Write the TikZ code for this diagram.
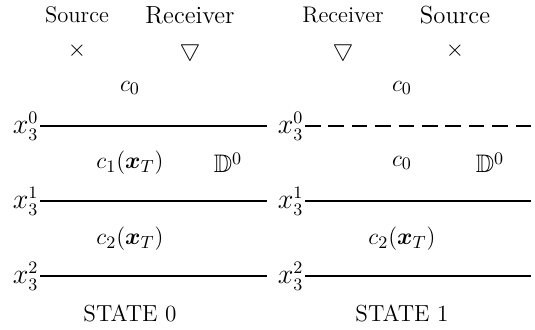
\documentclass[tikz,border=0pt]{standalone}
\usepackage{amsmath,amssymb,bm}
\usetikzlibrary{positioning}
\tikzset{
  smalltxt/.style={font=\fontsize{11.6}{13}\selectfont, inner sep=0pt},
  bigtxt/.style={font=\fontsize{12.7}{14}\selectfont, inner sep=0pt},
  sym/.style={font=\large, inner sep=0pt},
  lyr/.style={font=\fontsize{13.5}{15}\selectfont, inner sep=0.6pt, anchor=east},
  bnd/.style={line width=0.9pt},
  bnddash/.style={bnd, dash pattern=on 8pt off 4pt},
  lbl/.style={font=\fontsize{13}{15}\selectfont, inner sep=0pt},
  statetxt/.style={font=\fontsize{11.9}{14}\selectfont, inner sep=0pt}
}
\begin{document}
\begin{tikzpicture}[x=0.513pt,y=-0.513pt]
  \useasboundingbox (0,0) rectangle (535,329);
  % state 0
  \node[smalltxt] (srcL) at (77,15) {Source};
  \node[bigtxt] (recL) at (190,15) {Receiver};
  \node[sym] (crossL) at (77,51) {$\times$};
  \node[sym] (triL) at (190,51) {$\bigtriangledown$};
  \node[lbl] (cA) at (130,88) {$c_0$};
  \node[lbl] (cB) at (130,163) {$c_1(\bm{x}_T)$};
  \node[lbl] (dL) at (228,163) {$\mathbb{D}^0$};
  \node[lbl] (cC) at (130,239) {$c_2(\bm{x}_T)$};
  \node[statetxt] (stL) at (130,313) {STATE 0};
  \foreach \k/\y in {0/126,1/201,2/276} {
    \node[lyr] (lL\k) at (40,\y) {$x_3^{\k}$};
    \coordinate (eL\k) at (267,\y);
    \draw[bnd] (lL\k.east) -- (eL\k);
  }
  % state 1
  \node[smalltxt] (recR) at (343,15) {Receiver};
  \node[bigtxt] (srcR) at (455,15) {Source};
  \node[sym] (triR) at (343,51) {$\bigtriangledown$};
  \node[sym] (crossR) at (455,51) {$\times$};
  \node[lbl] (cD) at (402,88) {$c_0$};
  \node[lbl] (cE) at (402,163) {$c_0$};
  \node[lbl] (dR) at (490,163) {$\mathbb{D}^0$};
  \node[lbl] (cF) at (402,239) {$c_2(\bm{x}_T)$};
  \node[statetxt] (stR) at (402,313) {STATE 1};
  \foreach \k/\y/\st in {0/126/bnddash,1/201/bnd,2/276/bnd} {
    \node[lyr] (lR\k) at (305,\y) {$x_3^{\k}$};
    \coordinate (eR\k) at (531,\y);
    \draw[\st] (lR\k.east) -- (eR\k);
  }
\end{tikzpicture}
\end{document}
